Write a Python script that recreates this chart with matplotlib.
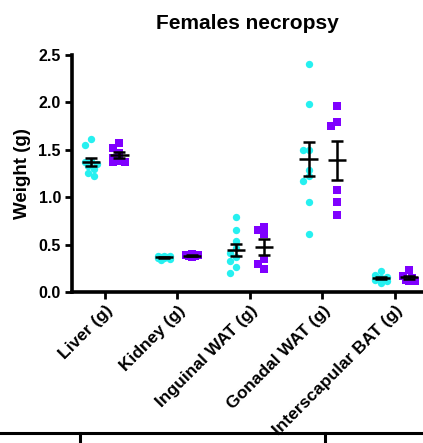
import matplotlib.pyplot as plt
import numpy as np
from matplotlib.lines import Line2D

plt.rcParams['font.family'] = ['Liberation Sans', 'DejaVu Sans']
plt.rcParams['font.weight'] = 'bold'

organs = ["Liver (g)", "Kidney (g)", "Inguinal WAT (g)", "Gonadal WAT (g)",
          "Interscapular BAT (g)"]

# cyan circles
group_a = [
    [1.61, 1.55, 1.38, 1.37, 1.35, 1.33, 1.30, 1.26, 1.22],
    [0.38, 0.38, 0.37, 0.37, 0.36, 0.36, 0.35, 0.34, 0.38],
    [0.79, 0.65, 0.54, 0.46, 0.41, 0.37, 0.33, 0.26, 0.20],
    [2.41, 1.98, 1.50, 1.50, 1.29, 1.22, 1.17, 0.95, 0.61],
    [0.22, 0.18, 0.16, 0.15, 0.15, 0.14, 0.13, 0.12, 0.10],
]
# purple squares
group_b = [
    [1.57, 1.52, 1.47, 1.41, 1.38, 1.37, 1.37],
    [0.40, 0.39, 0.39, 0.38, 0.38, 0.37],
    [0.69, 0.65, 0.61, 0.35, 0.30, 0.24],
    [1.96, 1.79, 1.75, 1.08, 0.95, 0.81],
    [0.23, 0.17, 0.15, 0.13, 0.12, 0.12],
]

cyan = '#26F0F0'
purple = '#7F00FF'

W, H = 423, 443
fig = plt.figure(figsize=(W / 100, H / 100), dpi=100)
ax = fig.add_axes([72 / W, 151 / H, 351 / W, 237 / H])
ax.set_xlim(0.545, 5.39)
ax.set_ylim(0, 2.5)

# pixel scale for the swarm layout
px_x = (5.39 - 0.545) / 351
px_y = 2.5 / 237


def swarm(vals, step=3.0, gap=6.5):
    # small beeswarm: nudge a point sideways while it overlaps others
    order = np.argsort(vals)[::-1]
    offs = np.zeros(len(vals))
    placed = []
    for i in order:
        y = vals[i] / px_y
        best, best_d = 0, -1
        for k in [0, -1, 1, -2, 2]:
            x = k * step
            d = min([np.hypot(x - px, y - py) for px, py in placed] or [99])
            if d >= gap:
                best = x
                break
            if d > best_d:
                best, best_d = x, d
        placed.append((best, y))
        offs[i] = best * px_x
    return offs


for i, (a, b) in enumerate(zip(group_a, group_b)):
    pos = i + 1
    for vals, off, col, mk in [(a, -0.19, cyan, 'o'), (b, 0.2, purple, 's')]:
        vals = np.array(vals)
        xs = pos + off + swarm(vals)
        ax.scatter(xs, vals, s=28, marker=mk, color=col, linewidths=0,
                   zorder=2)
        m = vals.mean()
        sem = vals.std(ddof=1) / np.sqrt(len(vals))
        ax.errorbar(pos + off, m, yerr=sem, fmt='none', ecolor='black',
                    elinewidth=1.8, capsize=4, capthick=1.8, zorder=3)
        ax.hlines(m, pos + off - 0.125, pos + off + 0.125, color='black',
                  lw=1.8, zorder=3)

for s in ['top', 'right']:
    ax.spines[s].set_visible(False)
for s in ['left', 'bottom']:
    ax.spines[s].set_linewidth(2.6)

ax.set_yticks(np.arange(0, 2.51, 0.5))
ax.set_yticklabels([f"{v:.1f}" for v in np.arange(0, 2.51, 0.5)],
                   fontsize=11.5, fontweight='bold')
ax.set_xticks(range(1, 6))
ax.set_xticklabels(organs, rotation=45, ha='right', va='top',
                   rotation_mode='anchor', fontsize=12.5, fontweight='bold')
ax.tick_params(width=2, length=5, pad=3)
ax.set_ylabel("Weight (g)", fontsize=13.5, fontweight='bold', labelpad=5)
ax.set_title("Females necropsy", fontsize=15, fontweight='bold', pad=19)

# edge of the next panel peeking in at the bottom
fig.add_artist(Line2D([0, 1], [10 / H, 10 / H], color='black', lw=2.2))
for xp in [80, 325]:
    fig.add_artist(Line2D([xp / W, xp / W], [0, 10 / H], color='black',
                          lw=2.2))

fig.savefig("out.png", dpi=100)
